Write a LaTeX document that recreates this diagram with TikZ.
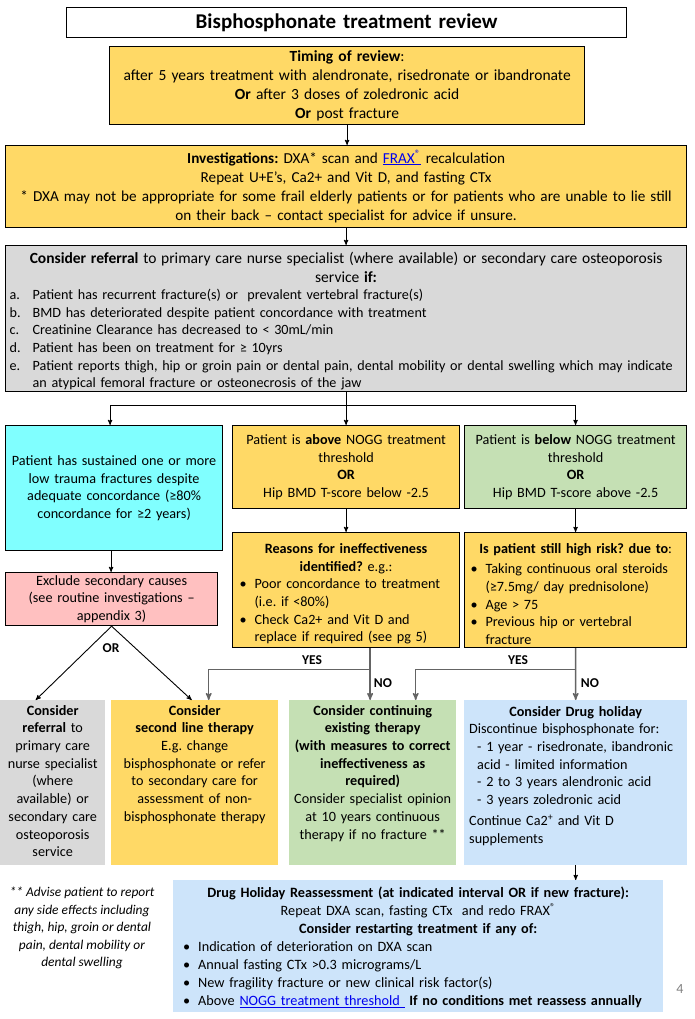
\documentclass[tikz,border=0pt]{standalone}
\usepackage{fontspec}
\setmainfont{Carlito}
\usetikzlibrary{arrows}
\frenchspacing

\definecolor{gold}{RGB}{255,217,102}
\definecolor{aqua}{RGB}{128,255,255}
\definecolor{leaf}{RGB}{197,224,180}
\definecolor{rose}{RGB}{255,192,192}
\definecolor{ash}{RGB}{217,217,217}
\definecolor{sky}{RGB}{205,228,250}
\definecolor{linkblue}{RGB}{0,0,238}
\definecolor{wire}{RGB}{100,100,100}

\newcommand{\weblink}[1]{\textcolor{linkblue}{\underline{#1}}}
\newcommand{\midline}[1]{\par\hbox to\hsize{\hss#1\hss}}
\newcommand{\leftrow}[2]{\par\hbox to\hsize{\hskip#1\relax#2\hfil}}
\newcommand{\toppart}[2]{\vbox to #1{#2\vfil}}
\newcommand{\bul}{\makebox[15pt][l]{\textbullet}}

\begin{document}
\begin{tikzpicture}[x=1pt,y=-1pt,>=stealth',
    every node/.style={inner sep=0pt},
    frame/.style={draw,line width=1.2pt,anchor=north west,inner xsep=4pt,inner ysep=2pt},
    flat/.style={anchor=north west,inner xsep=4pt,inner ysep=0pt},
    main/.style={font=\fontsize{14.2}{17.7}\selectfont},
    link/.style={->,line width=0.9pt},
    dec/.style={->,line width=1.4pt,draw=wire},
    tag/.style={font=\fontsize{13.5}{16}\selectfont\bfseries}]
  \useasboundingbox (0,0) rectangle (695,1019);

  % header and review steps
  \node[frame,text width=552pt,minimum height=30pt,align=center,
        font=\fontsize{21}{24}\selectfont\bfseries] (title) at (66,7) {Bisphosphonate treatment review};
  \node[frame,fill=gold,text width=467pt,minimum height=78pt,align=center,
        font=\fontsize{15.5}{19}\selectfont] (timing) at (109,46)
    {\textbf{Timing of review}:\\after 5 years treatment with alendronate, risedronate or ibandronate\\
     \textbf{Or} after 3 doses of zoledronic acid\\\textbf{Or} post fracture};
  \node[frame,fill=gold,text width=673pt,minimum height=82pt,align=center,
        font=\fontsize{15.2}{19}\selectfont] (invest) at (5,145)
    {\textbf{Investigations:} DXA* scan and \weblink{FRAX\textsuperscript{®}} recalculation\\
     Repeat U+E’s, Ca2+ and Vit D, and fasting CTx\\{}
     * DXA may not be appropriate for some frail elderly patients or for patients who are unable to lie still\\
     on their back – contact specialist for advice if unsure.};
  \node[frame,fill=ash,text width=673pt,
        font=\fontsize{14.15}{17.6}\selectfont] (refer) at (5,245)
    {\toppart{142pt}{\vskip5pt{\fontsize{15.5}{18.2}\selectfont
     \midline{\textbf{Consider referral} to primary care nurse specialist (where available) or secondary care osteoporosis}
     \midline{service \textbf{if:}}}
     \leftrow{0pt}{\makebox[23pt][l]{a.}Patient has recurrent fracture(s) or\ \ prevalent vertebral fracture(s)}
     \leftrow{0pt}{\makebox[23pt][l]{b.}BMD has deteriorated despite patient concordance with treatment}
     \leftrow{0pt}{\makebox[23pt][l]{c.}Creatinine Clearance has decreased to < 30mL/min}
     \leftrow{0pt}{\makebox[23pt][l]{d.}Patient has been on treatment for ≥ 10yrs}
     \leftrow{0pt}{\makebox[23pt][l]{e.}Patient reports thigh, hip or groin pain or dental pain, dental mobility or dental swelling which may indicate}
     \leftrow{23pt}{an atypical femoral fracture or osteonecrosis of the jaw}}};

  % three routes
  \node[frame,fill=aqua,text width=209pt,minimum height=125pt,align=center,main] (cyan) at (5,425)
    {Patient has sustained one or more\\low trauma fractures despite\\adequate concordance (≥80\%\\concordance for ≥2 years)};
  \node[frame,fill=gold,text width=219pt,minimum height=83pt,align=center,main] (above) at (232,425)
    {Patient is \textbf{above} NOGG treatment\\threshold\\\textbf{OR}\\Hip BMD T-score below -2.5};
  \node[frame,fill=leaf,text width=214pt,minimum height=83pt,align=center,main] (below) at (464,425)
    {Patient is \textbf{below} NOGG treatment\\threshold\\\textbf{OR}\\Hip BMD T-score above -2.5};
  \node[frame,fill=rose,text width=204pt,minimum height=53pt,align=center,main] (pink) at (5,572)
    {Exclude secondary causes\\(see routine investigations –\\appendix 3)};
  \node[frame,fill=gold,text width=219pt,minimum height=115pt,main] (reasons) at (232,532)
    {\midline{\textbf{Reasons for ineffectiveness}}
     \midline{\textbf{identified?} e.g.:}
     \leftrow{3pt}{\bul Poor concordance to treatment}
     \leftrow{18pt}{(i.e. if <80\%)}
     \leftrow{3pt}{\bul Check Ca2+ and Vit D and}
     \leftrow{18pt}{replace if required (see pg 5)}};
  \node[frame,fill=gold,text width=214pt,minimum height=115pt,main] (risk) at (464,532)
    {\midline{\textbf{Is patient still high risk? due to}:}\vskip3pt
     \leftrow{2pt}{\bul Taking continuous oral steroids}
     \leftrow{17pt}{(≥7.5mg/ day prednisolone)}
     \leftrow{2pt}{\bul Age > 75}
     \leftrow{2pt}{\bul Previous hip or vertebral}
     \leftrow{17pt}{fracture}};

  % outcomes
  \node[flat,fill=ash,text width=97pt,main] (refer2) at (0,700)
    {\toppart{165pt}{\vskip5pt
     \midline{\textbf{Consider}}\midline{\textbf{referral} to}\midline{primary care}
     \midline{nurse specialist}\midline{(where}\midline{available) or}
     \midline{secondary care}\midline{osteoporosis}\midline{service}}};
  \node[flat,fill=gold,text width=159pt,main] (second) at (111,700)
    {\toppart{165pt}{\vskip5pt
     \midline{\textbf{Consider}}\midline{\textbf{second line therapy}}\midline{E.g. change}
     \midline{bisphosphonate or refer}\midline{to secondary care for}
     \midline{assessment of non-}\midline{bisphosphonate therapy}}};
  \node[flat,fill=leaf,text width=159pt,main] (cont) at (289,700)
    {\toppart{165pt}{\vskip5pt
     \midline{\textbf{Consider continuing}}\midline{\textbf{existing therapy}}
     \midline{\textbf{(with measures to correct}}\midline{\textbf{ineffectiveness as}}
     \midline{\textbf{required)}}\midline{Consider specialist opinion}
     \midline{at 10 years continuous}\midline{therapy if no fracture **}}};
  \node[flat,fill=sky,text width=215pt,main] (holiday) at (464,700)
    {\toppart{165pt}{\vskip6pt
     \midline{\textbf{Consider Drug holiday}}
     \leftrow{1pt}{Discontinue bisphosphonate for:}
     \leftrow{9pt}{- 1 year - risedronate, ibandronic}
     \leftrow{9pt}{acid - limited information}
     \leftrow{9pt}{- 2 to 3 years alendronic acid}
     \leftrow{9pt}{- 3 years zoledronic acid}\vskip3pt
     \leftrow{1pt}{Continue Ca2\textsuperscript{+} and Vit D}
     \leftrow{1pt}{supplements}}};
  \node[flat,fill=sky,text width=482pt,font=\fontsize{14.25}{18}\selectfont] (reassess) at (173,880)
    {\toppart{132pt}{\vskip7pt
     \midline{\textbf{Drug Holiday Reassessment (at indicated interval OR if new fracture):}}
     \midline{Repeat DXA scan, fasting CTx\ \ and redo FRAX\textsuperscript{®}}
     \midline{\textbf{Consider restarting treatment if any of:}}
     \leftrow{6pt}{\bul Indication of deterioration on DXA scan}
     \leftrow{6pt}{\bul Annual fasting CTx >0.3 micrograms/L}
     \leftrow{6pt}{\bul New fragility fracture or new clinical risk factor(s)}
     \leftrow{6pt}{\bul Above \weblink{NOGG treatment threshold\ }\ \textbf{If no conditions met reassess annually}}}};
  \node[align=center,font=\fontsize{13.4}{17.5}\selectfont\itshape] (note) at (82,928)
    {** Advise patient to report\\any side effects including\\thigh, hip, groin or dental\\pain, dental mobility or\\dental swelling};
  \node[font=\fontsize{14}{16}\selectfont,text=gray] (page) at (680,989) {4};

  % labels
  \node[tag] (orlab) at (111,648) {OR};
  \node[tag] (yesA) at (312,660) {YES};
  \node[tag] (noA) at (383,683) {NO};
  \node[tag] (yesB) at (518,660) {YES};
  \node[tag] (noB) at (590,683) {NO};

  % connectors
  \path (refer.south) ++(0,13) coordinate (split);
  \path ([xshift=24pt]reasons.south) coordinate (forkA) ++(0,21) coordinate (branchA);
  \path (risk.south) ++(0,21) coordinate (branchB);
  \draw[link] (timing.south) -- (timing.south |- invest.north);
  \draw[link] (invest.south) -- (invest.south |- refer.north);
  \draw[link] (refer.south) -- (above.north);
  \draw[link] (split) -| ([xshift=-4pt]cyan.north);
  \draw[link] (split) -| (below.north);
  \draw[link] ([xshift=-3pt]cyan.south) -- ([xshift=-3pt]cyan.south |- pink.north);
  \draw[link] (above.south) -- (reasons.north);
  \draw[link] (below.south) -- (risk.north);
  \draw[link] (pink.south) -- ([xshift=-17pt]refer2.north);
  \draw[link] (pink.south) -- ([xshift=-3pt]second.north);
  \draw[dec] (forkA) -- (forkA |- cont.north);
  \draw[dec] (branchA) -| ([xshift=14pt]second.north);
  \draw[dec] (risk.south) -- (holiday.north);
  \draw[dec] (branchB) -| ([xshift=43pt]cont.north);
  \draw[link] (holiday.south) -- (holiday.south |- reassess.north);
\end{tikzpicture}
\end{document}
